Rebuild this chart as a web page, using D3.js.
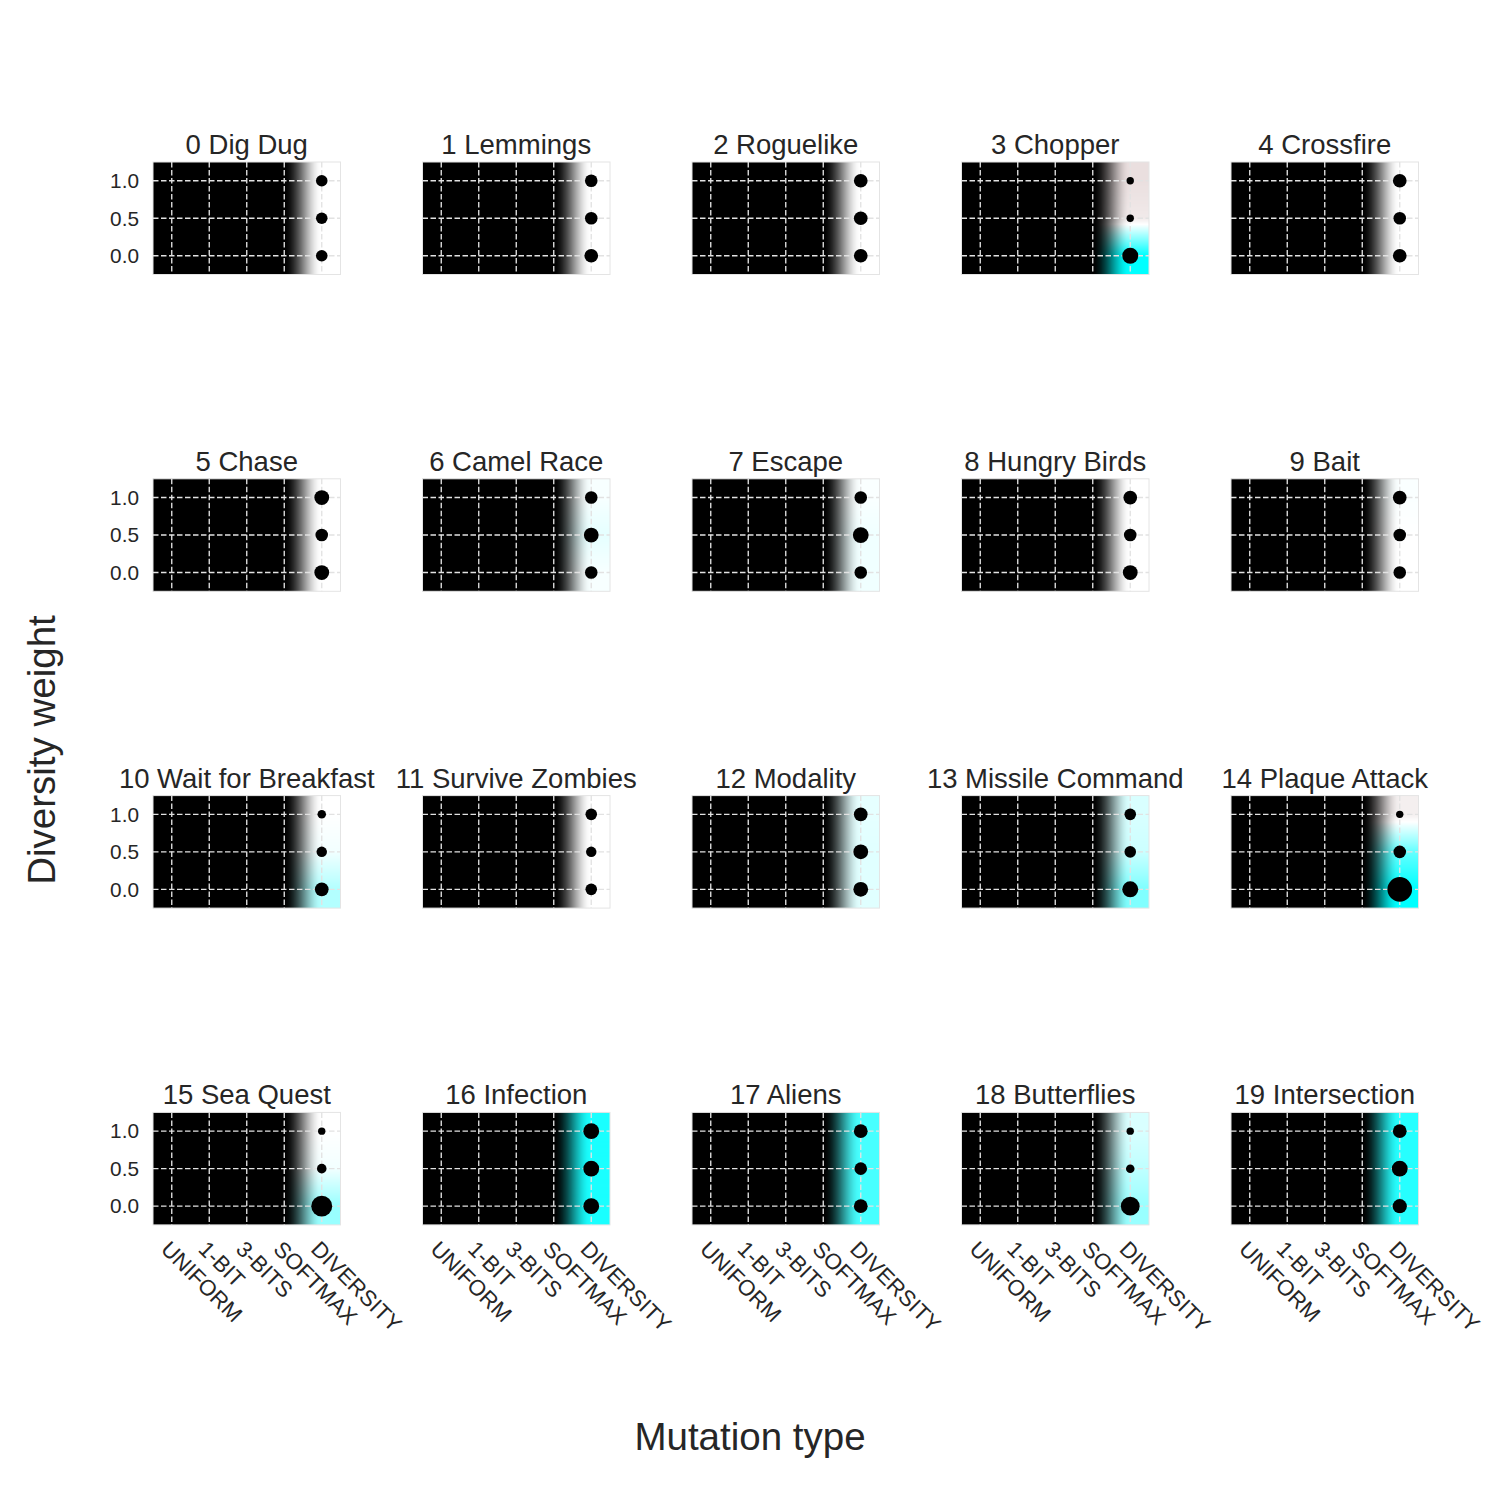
<!DOCTYPE html>
<html><head><meta charset="utf-8">
<script src="https://cdn.jsdelivr.net/npm/d3@7"></script>
<style>
body{margin:0;background:#fff}
text{font-family:"Liberation Sans",Arial,sans-serif;fill:#262626}
</style>
</head><body>
<svg id="chart" width="1500" height="1500"></svg>
<script>
// ---------------- data ----------------
const games = ["0 Dig Dug","1 Lemmings","2 Roguelike","3 Chopper","4 Crossfire",
  "5 Chase","6 Camel Race","7 Escape","8 Hungry Birds","9 Bait",
  "10 Wait for Breakfast","11 Survive Zombies","12 Modality","13 Missile Command","14 Plaque Attack",
  "15 Sea Quest","16 Infection","17 Aliens","18 Butterflies","19 Intersection"];
const mutationTypes = ["UNIFORM","1-BIT","3-BITS","SOFTMAX","DIVERSITY"];
const weights = [0.0, 0.5, 1.0];
const yTickLabels = ["0.0","0.5","1.0"];
// heat value of the DIVERSITY column for weights [0.0, 0.5, 1.0]; other columns are empty (black)
const diversityHeat = [
  [0,0,0],[0,0,0],[0,0,0],[1.0,-0.2,-0.3],[0,0,0],
  [0,0,0],[0.03,0.1,0.03],[0.06,0.06,0.02],[0,0,0],[0,0,0.02],
  [0.3,0.05,0],[0,0,0],[0.12,0.12,0.1],[0.5,0.2,0.15],[1.0,0.6,-0.15],
  [0.4,0.05,0],[0.9,0.9,0.9],[0.72,0.72,0.72],[0.4,0.25,0.15],[0.85,0.85,0.85]
];
// marker magnitude (area units) for weights [0.0, 0.5, 1.0]
const markerSize = [
  [22,22,22],[31,26,26],[31,31,31],[42,9,9],[31,26,31],
  [36,26,36],[26,36,26],[26,41,26],[36,26,31],[26,26,31],
  [31,18,12],[22,18,22],[36,36,31],[42,22,22],[100,26,9],
  [72,15,9],[41,41,41],[31,26,31],[58,12,9],[33,41,31]
];

// ---------------- layout ----------------
const svg = d3.select("#chart");
const W = 187.5, H = 112.5;
const colLeft = d3.range(5).map(i => 153 + i * 269.5);
const rowTop = d3.range(4).map(i => 162 + i * 316.8);

const x = d3.scaleLinear().domain([-0.5, 4.5]).range([0, W]);
const y = d3.scaleLinear().domain([-0.25, 1.25]).range([H, 0]);
const r = d3.scaleSqrt().domain([0, 144]).range([0, 14.8]);
const negColor = d3.interpolateRgb("#ffffff", "#b89494");
const posColor = d3.interpolateRgb("#ffffff", "#00ffff");
const cmap = v => v >= 0 ? posColor(Math.min(1, v)) : negColor(Math.min(1, -v));

function heatImage(vals) {
  const cw = Math.ceil(W), ch = Math.ceil(H);
  const cv = document.createElement("canvas");
  cv.width = cw; cv.height = ch;
  const ctx = cv.getContext("2d");
  const img = ctx.createImageData(cw, ch);
  const col = d3.scaleLinear().domain(weights).range(vals).clamp(true);
  for (let py = 0; py < ch; py++) {
    const v = col(y.invert(py + 0.5));
    const c = d3.rgb(cmap(v));
    for (let px = 0; px < cw; px++) {
      let t = Math.max(0, Math.min(1, x.invert(px + 0.5) - 3));
      t = t * t * (3 - 2 * t);
      const k = (py * cw + px) * 4;
      img.data[k] = c.r * t; img.data[k + 1] = c.g * t; img.data[k + 2] = c.b * t; img.data[k + 3] = 255;
    }
  }
  ctx.putImageData(img, 0, 0);
  return cv.toDataURL();
}

games.forEach((name, gi) => {
  const ci = gi % 5, ri = Math.floor(gi / 5);
  const g = svg.append("g").attr("transform", `translate(${colLeft[ci]},${rowTop[ri]})`);
  g.append("image").attr("x", 0).attr("y", 0).attr("width", W).attr("height", H)
    .attr("preserveAspectRatio", "none").attr("href", heatImage(diversityHeat[gi]));
  g.append("rect").attr("width", W).attr("height", H).attr("fill", "none")
    .attr("stroke", "#e4e4e4").attr("stroke-width", 1);
  // grid
  g.selectAll(".vg").data(mutationTypes).join("line")
    .attr("x1", (d, i) => x(i)).attr("x2", (d, i) => x(i)).attr("y1", 0).attr("y2", H)
    .attr("stroke", "#e2e2e2").attr("stroke-width", 1.35).attr("stroke-dasharray", "5.5,2.5");
  g.selectAll(".hg").data(weights).join("line")
    .attr("y1", d => y(d)).attr("y2", d => y(d)).attr("x1", 0).attr("x2", W)
    .attr("stroke", "#e2e2e2").attr("stroke-width", 1.35).attr("stroke-dasharray", "5.5,2.5");
  // dots
  g.selectAll("circle").data(weights).join("circle")
    .attr("cx", x(4)).attr("cy", d => y(d)).attr("r", (d, i) => r(markerSize[gi][i]))
    .attr("fill", "#000");
  // title
  g.append("text").attr("x", W / 2).attr("y", -8).attr("text-anchor", "middle")
    .attr("font-size", 27.5).text(name);
  if (ci === 0) {
    g.selectAll(".yt").data(weights).join("text")
      .attr("x", -14).attr("y", d => y(d)).attr("dy", "0.35em").attr("text-anchor", "end")
      .attr("font-size", 20.8).text((d, i) => yTickLabels[i]);
  }
  if (ri === 3) {
    g.selectAll(".xt").data(mutationTypes).join("text")
      .attr("transform", (d, i) => `translate(${x(i) - 12},${H + 25.5}) rotate(45)`)
      .attr("font-size", 22.2).text(d => d);
  }
});

svg.append("text").attr("x", 750).attr("y", 1450).attr("text-anchor", "middle")
  .attr("font-size", 38.5).text("Mutation type");
svg.append("text").attr("transform", "translate(55,750) rotate(-90)").attr("text-anchor", "middle")
  .attr("font-size", 38.5).text("Diversity weight");
</script>
</body></html>
